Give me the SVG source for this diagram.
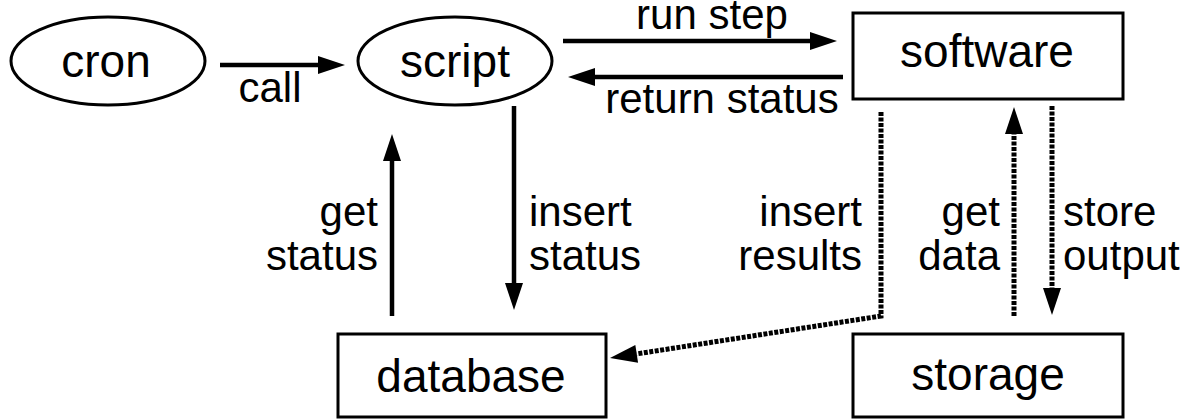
<svg xmlns="http://www.w3.org/2000/svg" width="1194" height="419" viewBox="0 0 1194 419">
<style>
.node{fill:#fff;stroke:#000;stroke-width:3}
.nt{font-family:"Liberation Sans",Arial,sans-serif;font-size:46px;text-anchor:middle;fill:#000}
.lt{font-family:"Liberation Sans",Arial,sans-serif;font-size:42px;fill:#000}
.e{fill:none;stroke:#000;stroke-width:4.5}
.d{stroke-width:5;stroke-dasharray:4 1.5}
</style>
<defs>
<marker id="ah" markerUnits="userSpaceOnUse" markerWidth="27" markerHeight="18" refX="0" refY="9" orient="auto" overflow="visible">
<path d="M0,0 L27,9 L0,18 z" fill="#000"/>
</marker>
</defs>
<rect width="1194" height="419" fill="#fff"/>
<g id="cron"><ellipse class="node" cx="108" cy="61" rx="97" ry="44"/><text class="nt" x="106" y="77">cron</text></g>
<g id="script"><ellipse class="node" cx="455" cy="61" rx="97" ry="44"/><text class="nt" x="455" y="77">script</text></g>
<g id="software"><rect class="node" x="853" y="13" width="270" height="86"/><text class="nt" x="987" y="67">software</text></g>
<g id="database"><rect class="node" x="338" y="334" width="268" height="83"/><text class="nt" x="471" y="392">database</text></g>
<g id="storage"><rect class="node" x="853" y="334" width="270" height="83"/><text class="nt" x="988" y="390">storage</text></g>
<g id="connectors">
<path class="e" d="M220,65 H318" marker-end="url(#ah)"/>
<path class="e" d="M563,41 H810" marker-end="url(#ah)"/>
<path class="e" d="M843,77 H595" marker-end="url(#ah)"/>
<path class="e" d="M392,316 V161" marker-end="url(#ah)"/>
<path class="e" d="M514,106 V283" marker-end="url(#ah)"/>
<path class="e d" d="M881,112 V316 L636.7,353.9" marker-end="url(#ah)"/>
<path class="e d" d="M1014,316 V134" marker-end="url(#ah)"/>
<path class="e d" d="M1052,106 V288" marker-end="url(#ah)"/>
</g>
<g id="labels">
<text class="lt" x="270" y="102" text-anchor="middle">call</text>
<text class="lt" x="712" y="29" text-anchor="middle">run step</text>
<text class="lt" x="722" y="113" text-anchor="middle">return status</text>
<text class="lt" text-anchor="end"><tspan x="378" y="226">get</tspan><tspan x="378" y="270">status</tspan></text>
<text class="lt"><tspan x="529" y="226">insert</tspan><tspan x="529" y="270">status</tspan></text>
<text class="lt" text-anchor="end"><tspan x="862" y="226">insert</tspan><tspan x="862" y="270">results</tspan></text>
<text class="lt" text-anchor="end"><tspan x="1000" y="226">get</tspan><tspan x="1000" y="270">data</tspan></text>
<text class="lt"><tspan x="1063" y="226">store</tspan><tspan x="1063" y="270">output</tspan></text>
</g>
</svg>
